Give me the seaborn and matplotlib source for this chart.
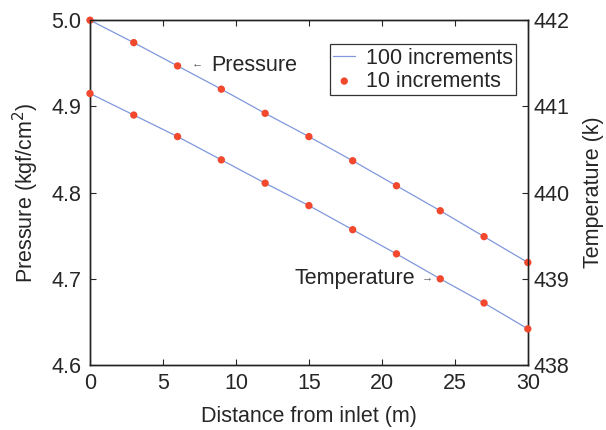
import matplotlib
matplotlib.use("Agg")
import matplotlib.pyplot as plt
import seaborn as sns
import pandas as pd

distance = [0, 3, 6, 9, 12, 15, 18, 21, 24, 27, 30]
pressure = [5.000, 4.974, 4.947, 4.920, 4.892, 4.865, 4.837, 4.808, 4.779, 4.749, 4.719]
temperature = [441.15, 440.90, 440.65, 440.38, 440.11, 439.85, 439.57, 439.29, 439.00, 438.72, 438.42]

x_ticks = [0, 5, 10, 15, 20, 25, 30]
p_ticks = [4.6, 4.7, 4.8, 4.9, 5.0]
t_ticks = [438, 439, 440, 441, 442]

sns.set_style("ticks")
plt.rcParams['font.family'] = ['Liberation Sans', 'DejaVu Sans']

df = pd.DataFrame({"distance": distance, "pressure": pressure, "temperature": temperature})

line_c = "#8098dc"
dot_c = "#f2482e"
fs = 15.5

fig = plt.figure(figsize=(6.06, 4.30), dpi=100)
ax = fig.add_axes([0.1485, 0.151, 0.7225, 0.802])
ax2 = ax.twinx()

sns.lineplot(data=df, x="distance", y="pressure", ax=ax, color=line_c, lw=0.9, label="100 increments")
sns.scatterplot(data=df, x="distance", y="pressure", ax=ax, color=dot_c, s=28, edgecolor="none",
                label="10 increments", zorder=3, clip_on=False)
sns.lineplot(data=df, x="distance", y="temperature", ax=ax2, color=line_c, lw=0.9, legend=False)
sns.scatterplot(data=df, x="distance", y="temperature", ax=ax2, color=dot_c, s=28, edgecolor="none",
                legend=False, zorder=3, clip_on=False)

ax.set_xlim(0, 30)
ax.set_ylim(4.6, 5.0)
ax2.set_ylim(438, 442)
ax.set_xticks(x_ticks)
ax.set_yticks(p_ticks)
ax.set_yticklabels([f"{v:.1f}" for v in p_ticks])
ax2.set_yticks(t_ticks)

ax.set_xlabel("Distance from inlet (m)", fontsize=fs, labelpad=8)
ax.set_ylabel("Pressure (kgf/cm$^2$)", fontsize=fs, labelpad=8)
ax2.set_ylabel("Temperature (k)", fontsize=fs, labelpad=10)

for a in (ax, ax2):
    for s in a.spines.values():
        s.set_visible(True)
        s.set_linewidth(1.0)
        s.set_color("#222222")
ax.tick_params(axis="x", direction="in", labelsize=fs, top=True, length=4, pad=6)
ax.tick_params(axis="y", direction="in", labelsize=fs, length=4, pad=6)
ax2.tick_params(axis="y", direction="in", labelsize=fs, length=4, pad=4)

ax.text(7.0, 4.9495, "\u2190", fontsize=8, color="#555555", va="center", ha="left")
ax.text(8.3, 4.948, "Pressure", fontsize=fs, va="center", ha="left")
ax.text(22.25, 4.700, "Temperature", fontsize=fs, va="center", ha="right")
ax.text(22.7, 4.7015, "\u2192", fontsize=8, color="#555555", va="center", ha="left")

leg = ax.legend(loc="upper right", bbox_to_anchor=(0.973, 0.93), fontsize=fs, frameon=True,
                fancybox=False, edgecolor="black", handlelength=1.0, handletextpad=0.5,
                borderpad=0.15, labelspacing=0.1, borderaxespad=0.0)
leg.get_frame().set_linewidth(0.9)

fig.savefig("out.png", dpi=100)
